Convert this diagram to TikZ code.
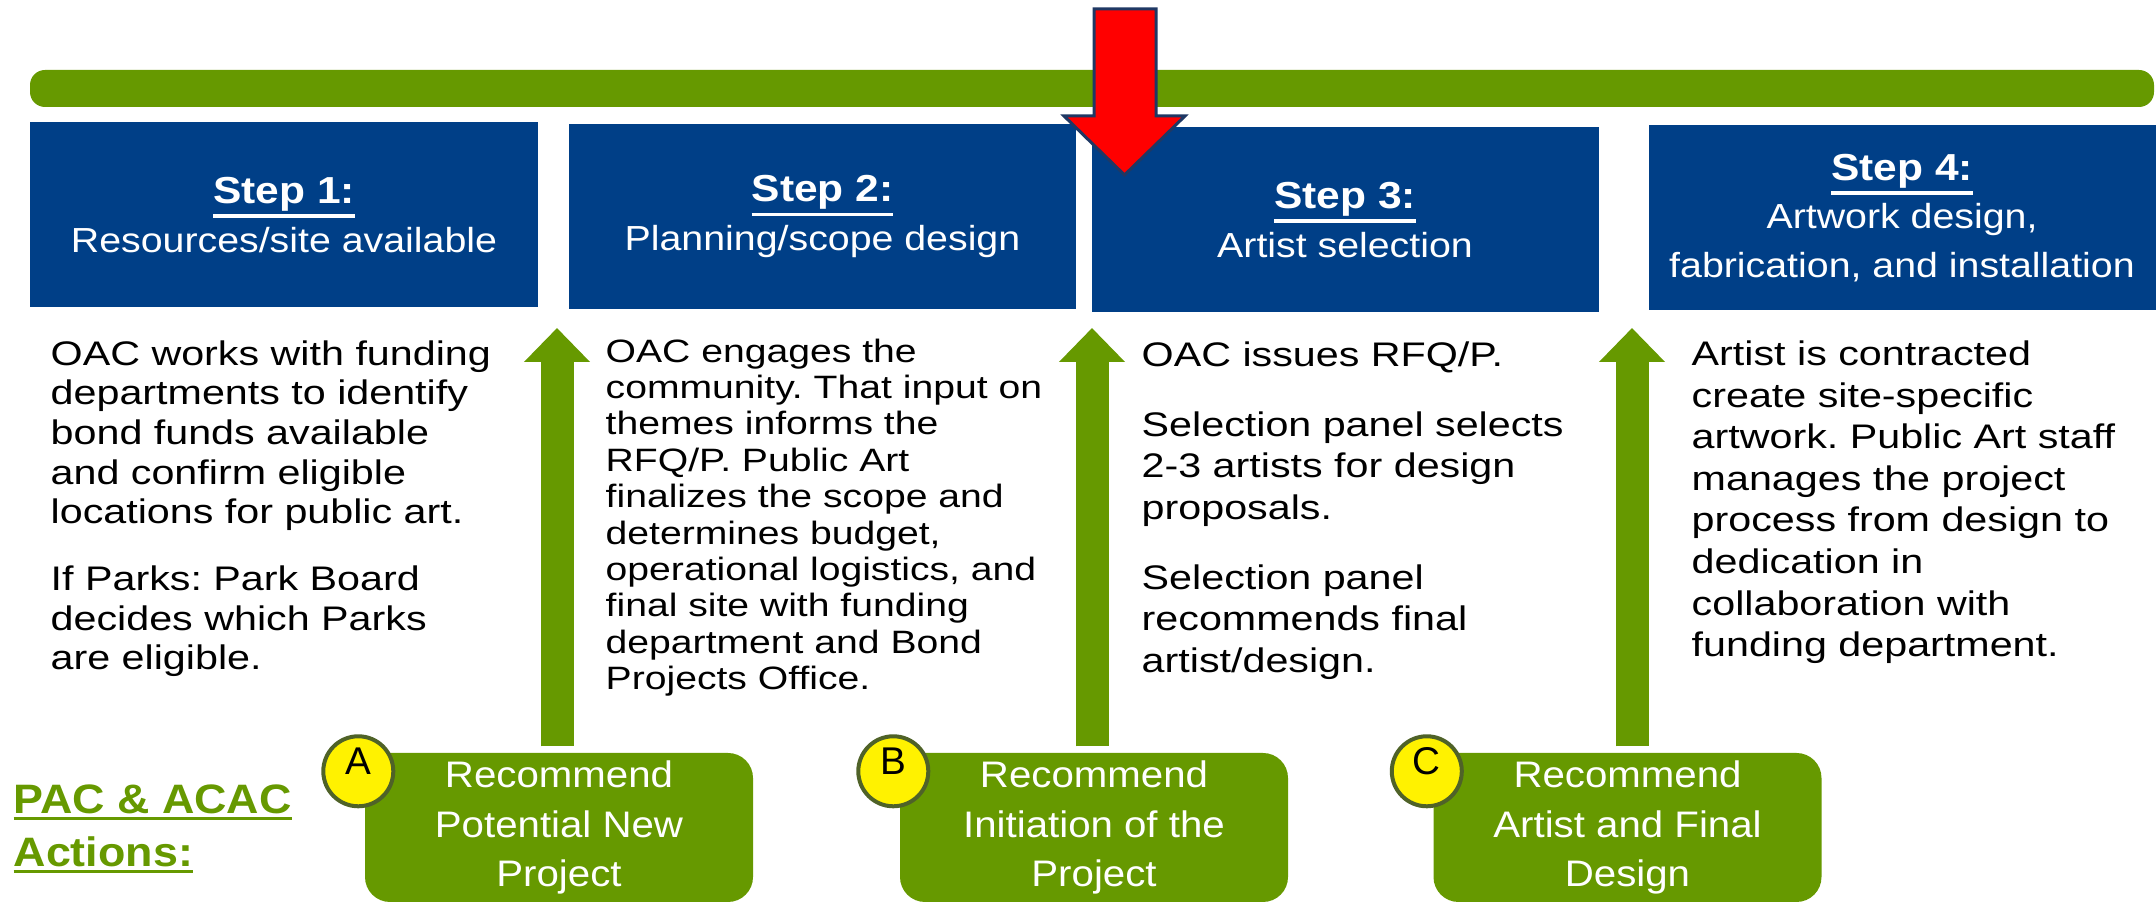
\documentclass[tikz,border=0pt]{standalone}
\usepackage{fontspec}
\setmainfont{Liberation Sans}
\newfontfamily\bodysans[FakeStretch=1.21]{Liberation Sans}
\newfontfamily\stepsans[FakeStretch=1.13]{Liberation Sans}
\newfontfamily\actsans[FakeStretch=1.09]{Liberation Sans}
\usetikzlibrary{arrows.meta,positioning}
\definecolor{stepblue}{RGB}{0,63,135}
\definecolor{leafgreen}{RGB}{102,153,0}
\definecolor{navyline}{RGB}{31,56,100}
\definecolor{rimgreen}{RGB}{79,98,40}
\frenchspacing
\def\setfont#1#2#3{#1\fontsize{#2}{#3}\selectfont\lineskiplimit=-10pt\relax}
\def\ulthick#1{\leavevmode\vtop{\hbox{#1}\kern0.8pt\hrule height 0.9pt}}
\def\steptitle#1{{\fontsize{10.7}{13.7}\selectfont\bfseries\ulthick{#1}}}

\tikzset{
	stepbox/.style={fill=stepblue, text=white, minimum width=5.07cm, minimum height=1.85cm, align=center, inner sep=0pt, font=\setfont{\stepsans}{9.9}{13.7}},
	bodytext/.style={anchor=north west, align=left, inner sep=0pt, font=\setfont{\bodysans}{9.7}{11.85}},
	actionbox/.style={fill=leafgreen, rounded corners=0.25cm, text=white, minimum width=3.88cm, minimum height=1.49cm, align=center, inner sep=0pt, font=\setfont{\actsans}{10.5}{14.2}},
	tagdot/.style={circle, fill=yellow, draw=rimgreen, line width=0.4mm, minimum size=0.7cm, inner sep=0pt, text height=0.1cm, text depth=0.04cm, font=\setfont{\rmfamily}{11}{11}},
	uparrow/.style={leafgreen, line width=0.33cm, -{Triangle[width=0.64cm, length=0.34cm]}}
}

\begin{document}
\begin{tikzpicture}
	\useasboundingbox (0,0) rectangle (21.56,9.04);
	%%%%% START %%%%%
	
	\fill[leafgreen, rounded corners=0.15cm] (0.30,7.97) rectangle (21.54,8.34);
	
	\node[stepbox] (step1) at (2.84,6.89) {\steptitle{Step 1:}\\Resources/site available};
	\node[stepbox] (step2) at (8.225,6.875) {\steptitle{Step 2:}\\Planning/scope design};
	\node[stepbox] (step3) at (13.45,6.84) {\steptitle{Step 3:}\\Artist selection};
	\node[stepbox] (step4) at (19.02,6.86) {\steptitle{Step 4:}\\Artwork design,\\fabrication, and installation};
	
	\node[bodytext, font=\setfont{\bodysans}{9.7}{11.25}] (text1) at (0.50,5.64) {OAC works with funding\\departments to identify\\bond funds available\\and confirm eligible\\locations for public art.\\[7.8pt]If Parks: Park Board\\decides which Parks\\are eligible.};
	\node[bodytext, font=\setfont{\bodysans}{9.2}{10.35}] (text2) at (6.05,5.66) {OAC engages the\\community. That input on\\themes informs the\\RFQ/P. Public Art\\finalizes the scope and\\determines budget,\\operational logistics, and\\final site with funding\\department and Bond\\Projects Office.};
	\node[bodytext] (text3) at (11.41,5.63) {OAC issues RFQ/P.\\[8pt]Selection panel selects\\2-3 artists for design\\proposals.\\[8pt]Selection panel\\recommends final\\artist/design.};
	\node[bodytext] (text4) at (16.91,5.64) {Artist is contracted\\create site-specific\\artwork. Public Art staff\\manages the project\\process from design to\\dedication in\\collaboration with\\funding department.};
	
	%%%%% ACTIONS %%%%%
	\node[anchor=west, align=left, inner sep=0pt, text=leafgreen, font=\setfont{\actsans}{11.7}{15}\bfseries] (pac) at (0.13,0.75) {\ulthick{PAC \& ACAC}\\\ulthick{Actions:}};
	
	\node[actionbox] (actA) at (5.59,0.765) {Recommend\\Potential New\\Project};
	\node[actionbox] (actB) at (10.94,0.765) {Recommend\\Initiation of the\\Project};
	\node[actionbox] (actC) at (16.275,0.765) {Recommend\\Artist and Final\\Design};
	
	\node[tagdot] (tagA) at ([shift={(-0.06,-0.19)}]actA.north west) {A};
	\node[tagdot] (tagB) at ([shift={(-0.06,-0.19)}]actB.north west) {B};
	\node[tagdot] (tagC) at ([shift={(-0.06,-0.19)}]actC.north west) {C};
	
	\coordinate (tipA) at (5.57,5.76);
	\coordinate (tipB) at (10.92,5.76);
	\coordinate (tipC) at (16.32,5.76);
	\draw[uparrow] ([yshift=0.06cm]actA.north -| tipA) -- (tipA);
	\draw[uparrow] ([yshift=0.06cm]actB.north -| tipB) -- (tipB);
	\draw[uparrow] ([yshift=0.06cm]actC.north -| tipC) -- (tipC);
	
	%%%%% POINTER %%%%%
	\draw[fill=red, draw=navyline, line width=0.3mm] (10.94,8.95) -- (11.56,8.95) -- (11.56,7.88) -- (11.85,7.88) -- (11.245,7.29) -- (10.64,7.88) -- (10.94,7.88) -- cycle;
	
	%%%%% END %%%%%
\end{tikzpicture}
\end{document}
